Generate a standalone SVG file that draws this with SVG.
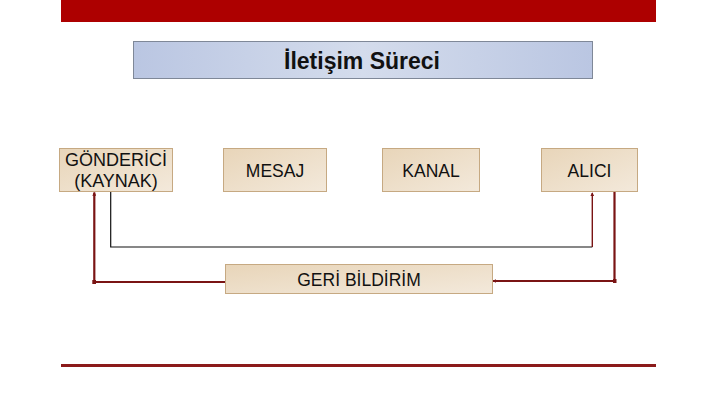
<svg xmlns="http://www.w3.org/2000/svg" width="720" height="405" viewBox="0 0 720 405">
<defs>
<linearGradient id="tg" x1="0" y1="0" x2="1" y2="0">
<stop offset="0" stop-color="#bac6e2"/>
<stop offset="0.5" stop-color="#d4dcec"/>
<stop offset="1" stop-color="#bac6e2"/>
</linearGradient>
<linearGradient id="bg" x1="0" y1="0" x2="1" y2="1">
<stop offset="0" stop-color="#e8d5b9"/>
<stop offset="1" stop-color="#f3e9db"/>
</linearGradient>
<marker id="ah" viewBox="0 0 6 6" refX="5" refY="3" markerWidth="4" markerHeight="4" orient="auto" markerUnits="userSpaceOnUse">
<path d="M0,0 L6,3 L0,6 z" fill="#7a1414"/>
</marker>
<marker id="dot" viewBox="0 0 6 6" refX="3" refY="3" markerWidth="4" markerHeight="4" markerUnits="userSpaceOnUse">
<rect x="0" y="0" width="6" height="6" fill="#7a1414"/>
</marker>
</defs>
<style>
.box{fill:url(#bg);stroke:#c6a982;stroke-width:1}
.lbl{font-family:"Liberation Sans",Arial,sans-serif;font-size:17.5px;fill:#111;text-anchor:middle}
.red{fill:none;stroke:#7a1414;stroke-width:2.2}
.redt{fill:none;stroke:#7a1414;stroke-width:1.4}
</style>
<rect x="61" y="0" width="595" height="22" fill="#ad0000"/>
<rect x="61" y="364" width="595" height="3" fill="#8b1a1a"/>
<g id="title">
<rect x="133.5" y="41.5" width="459" height="37" fill="url(#tg)" stroke="#7f8898" stroke-width="1"/>
<text x="362" y="69" font-family="Liberation Sans, Arial, sans-serif" font-size="23" font-weight="bold" fill="#111" text-anchor="middle">İletişim Süreci</text>
</g>
<g id="connectors">
<polyline points="110.7,191.5 110.7,247 592.3,247" fill="none" stroke="#111" stroke-width="1.2"/>
<polyline class="redt" points="592.3,247 592.3,193" marker-end="url(#ah)"/>
<polyline class="red" points="225,282 94.3,282 94.3,192.5" marker-mid="url(#dot)" marker-end="url(#ah)"/>
<polyline class="red" points="614.5,186 614.5,281 493,281" marker-mid="url(#dot)" marker-end="url(#ah)"/>
</g>
<g id="gonderici">
<rect class="box" x="59.5" y="148.5" width="113" height="43"/>
<text class="lbl" x="116" y="166" style="font-size:18px">GÖNDERİCİ</text>
<text class="lbl" x="116" y="187" style="font-size:18px">(KAYNAK)</text>
</g>
<g id="mesaj">
<rect class="box" x="223.5" y="148.5" width="103" height="43"/>
<text class="lbl" x="275" y="176.5">MESAJ</text>
</g>
<g id="kanal">
<rect class="box" x="382.5" y="148.5" width="97" height="43"/>
<text class="lbl" x="431" y="176.5">KANAL</text>
</g>
<g id="alici">
<rect class="box" x="541.5" y="148.5" width="96" height="43"/>
<text class="lbl" x="589.5" y="176.5">ALICI</text>
</g>
<g id="geribildirim">
<rect class="box" x="225.5" y="264.5" width="267" height="29"/>
<text class="lbl" x="359" y="285.5">GERİ BİLDİRİM</text>
</g>
</svg>
